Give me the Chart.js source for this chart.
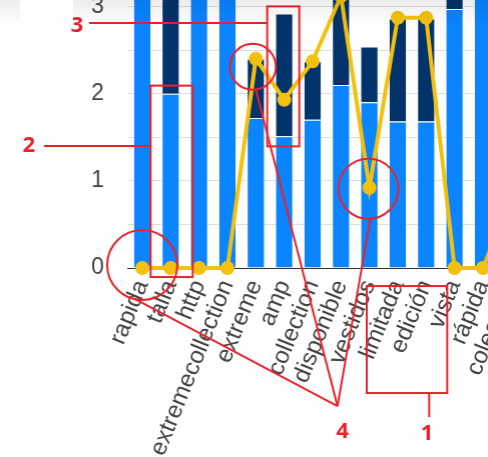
<!DOCTYPE html>
<html>
<head>
<meta charset="utf-8">
<script src="https://cdn.jsdelivr.net/npm/chart.js@4/dist/chart.umd.min.js"></script>
<style>
  html, body { margin:0; padding:0; background:#fff; width:488px; height:457px; overflow:hidden; position:relative; }
  #box { position:absolute; left:0; top:0; width:640px; height:520px; }
  #shade { position:absolute; left:0; top:0; width:488px; height:26px; pointer-events:none;
           background:linear-gradient(to bottom, rgba(0,0,0,0.07), rgba(0,0,0,0)); }
  #blank { position:absolute; left:20px; top:0; width:53px; height:23px; background:#fff; pointer-events:none; }
</style>
</head>
<body>
<div id="box"><canvas id="c"></canvas></div>
<div id="shade"></div>
<div id="blank"></div>
<script>
// ---- data ----
const categories = ['rapida','talla','http','extremecollection','extreme','amp','collection','disponible','vestidos','limitada','edición','vista','rápida','colección'];
const baseValues = [4.0, 2.0, 3.6, 3.4, 1.72, 1.51, 1.70, 2.10, 1.90, 1.68, 1.68, 2.97, 3.8, 3.5];
const topValues  = [0.0, 1.6, 0.0, 0.0, 0.68, 1.41, 0.67, 1.3, 0.64, 1.18, 1.18, 0.6, 0.0, 0.0];
const lineValues = [0, 0, 0, 0, 2.40, 1.93, 2.37, 3.12, 0.92, 2.87, 2.87, 0, 0, 0.8];
const yTickLabels = [0, 1, 2, 3];

// ---- styles / layout ----
const Y_MAX = 3.5;
const PX_PER_UNIT = 87.3;
const ZERO_Y = 268;
const LEFT_X = 128;
const CAT_W = 28.35;
const RED = '#e8222a';

Chart.defaults.font.family = '"Liberation Sans", Arial, sans-serif';

const annotate = {
  id: 'annotate',
  afterDraw(chart) {
    const ctx = chart.ctx, xs = chart.scales.x, ys = chart.scales.y, ca = chart.chartArea;
    const X = i => xs.getPixelForValue(i);
    const Y = v => ys.getPixelForValue(v);
    const px = v => ca.left + (v - LEFT_X);   // page x -> canvas x
    const py = v => Y(0) + (v - ZERO_Y);       // page y -> canvas y
    ctx.save();
    ctx.strokeStyle = RED; ctx.fillStyle = RED; ctx.lineWidth = 2;
    const line = (a, b, c, d) => { ctx.beginPath(); ctx.moveTo(a, b); ctx.lineTo(c, d); ctx.stroke(); };
    const circ = (x, y, r) => { ctx.beginPath(); ctx.arc(x, y, r, 0, Math.PI * 2); ctx.stroke(); };
    const rect = (x1, y1, x2, y2) => { ctx.strokeRect(x1, y1, x2 - x1, y2 - y1); };
    ctx.font = 'bold 22px "Open Sans", sans-serif';
    ctx.textAlign = 'center'; ctx.textBaseline = 'middle';

    // circles
    const cA = {x: X(0), y: Y(lineValues[0]) - 3, r: 35};
    const cB = {x: X(4) - 3, y: Y(lineValues[4]) + 8, r: 23};
    const cC = {x: X(8) - 1, y: Y(lineValues[8]) + 1, r: 30};
    circ(cA.x, cA.y, cA.r); circ(cB.x, cB.y, cB.r); circ(cC.x, cC.y, cC.r);

    // box 2 around talla
    const r2 = {x1: X(1) - 20, y1: Y(baseValues[1]) - 8, x2: X(1) + 22, y2: Y(0) + 9};
    rect(r2.x1, r2.y1, r2.x2, r2.y2);
    line(px(44), py(146), r2.x1, py(146));
    ctx.fillText('2', px(29), py(146));

    // box 3 around amp
    const r3 = {x1: X(5) - 17, y1: Y(baseValues[5] + topValues[5]) - 7, x2: X(5) + 15, y2: Y(baseValues[5]) + 10};
    rect(r3.x1, r3.y1, r3.x2, r3.y2);
    line(px(89), py(23), r3.x1, py(23));
    ctx.fillText('3', px(77), py(26));

    // box 1 around limitada / edición labels
    const r1 = {x1: X(9) - 31, y1: Y(0) + 18, x2: X(10) + 21, y2: Y(0) + 125};
    rect(r1.x1, r1.y1, r1.x2, r1.y2);
    line(X(10) + 3, r1.y2, X(10) + 3, r1.y2 + 24);
    ctx.fillText('1', X(10) + 1, r1.y2 + 41);

    // callout 4
    const hub = {x: px(337), y: py(406)};
    line(cA.x - 7, cA.y + 34, hub.x, hub.y);
    line(cB.x + 3, cB.y + cB.r, hub.x, hub.y);
    line(cC.x + 2, cC.y + cC.r, hub.x, hub.y);
    ctx.fillText('4', hub.x + 5, hub.y + 26);
    ctx.restore();
  }
};

const chart = new Chart(document.getElementById('c'), {
  data: {
    labels: categories,
    datasets: [
      { type: 'line', data: lineValues, stack: 'l', order: 1,
        borderColor: '#f2c10f', backgroundColor: '#f2c10f', borderWidth: 4,
        pointRadius: 7, pointHoverRadius: 7, pointBackgroundColor: '#f2c10f', pointBorderWidth: 0,
        tension: 0, clip: false },
      { type: 'bar', data: baseValues, stack: 's', order: 2,
        backgroundColor: '#0a84ff', borderColor: 'rgba(255,255,255,0.55)', borderWidth: 1,
        barPercentage: 0.8, categoryPercentage: 0.8 },
      { type: 'bar', data: topValues, stack: 's', order: 3,
        backgroundColor: '#02336b', borderColor: 'rgba(255,255,255,0.45)', borderWidth: 1,
        barPercentage: 0.8, categoryPercentage: 0.8 }
    ]
  },
  options: {
    responsive: true, maintainAspectRatio: false, animation: false,
    layout: { padding: { left: 100, top: 0, right: 0, bottom: 0 } },
    plugins: { legend: { display: false }, tooltip: { enabled: false } },
    scales: {
      x: {
        grid: { display: false, drawTicks: false },
        border: { display: true, color: '#333', width: 1 },
        ticks: { color: '#444', font: { size: 24 }, minRotation: 68, maxRotation: 68, padding: 8, autoSkip: false }
      },
      y: {
        stacked: true, min: 0, max: Y_MAX,
        grid: { color: '#dedede', drawTicks: false },
        border: { display: false },
        ticks: { stepSize: 0.5, color: '#444', font: { size: 23 }, padding: 24,
                 callback: v => yTickLabels.includes(v) ? String(v) : '' }
      }
    }
  },
  plugins: [annotate]
});

(function place() {
  const box = document.getElementById('box');
  for (let k = 0; k < 2; k++) {
    const ca = chart.chartArea;
    const wantH = Y_MAX * PX_PER_UNIT, wantW = categories.length * CAT_W;
    box.style.height = (box.clientHeight + wantH - (ca.bottom - ca.top)) + 'px';
    box.style.width = (box.clientWidth + wantW - (ca.right - ca.left)) + 'px';
    chart.resize();
  }
  box.style.left = (LEFT_X - chart.chartArea.left) + 'px';
  box.style.top = (ZERO_Y - chart.scales.y.getPixelForValue(0)) + 'px';
})();
</script>
</body>
</html>
